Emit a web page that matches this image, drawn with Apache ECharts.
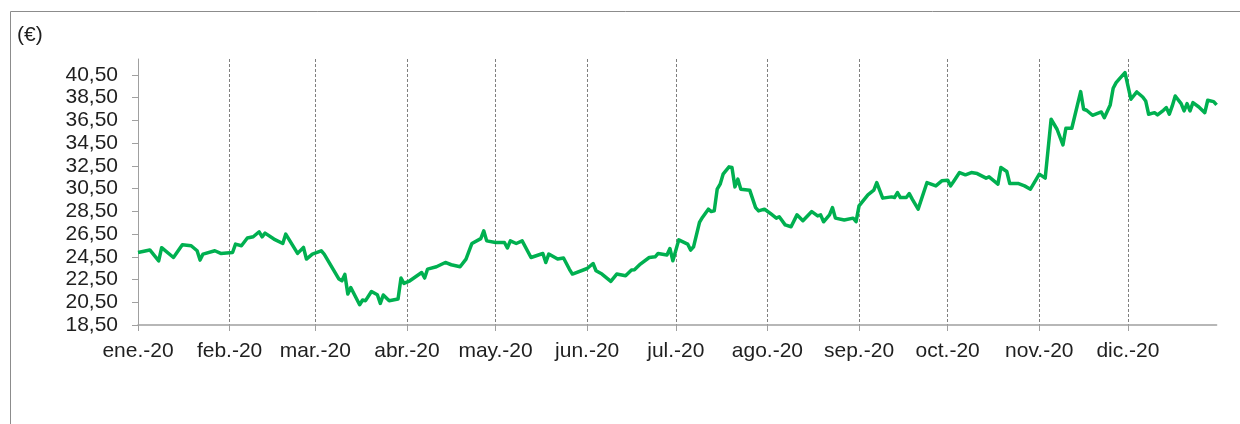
<!DOCTYPE html>
<html>
<head>
<meta charset="utf-8">
<script src="https://cdn.jsdelivr.net/npm/echarts@6/dist/echarts.min.js"></script>
<style>
  html, body { margin: 0; padding: 0; background: #fff; }
  #chart { width: 1240px; height: 424px; }
</style>
</head>
<body>
<div id="chart"></div>
<script>
// cotización diaria 2020 (€)
var dates = [
  '2020-01-01','2020-01-05','2020-01-08','2020-01-09','2020-01-13','2020-01-16','2020-01-19','2020-01-21','2020-01-22','2020-01-23',
  '2020-01-27','2020-01-29','2020-02-02','2020-02-03','2020-02-05','2020-02-07','2020-02-09','2020-02-11','2020-02-12','2020-02-13',
  '2020-02-16','2020-02-19','2020-02-20','2020-02-24','2020-02-26','2020-02-27','2020-02-29','2020-03-03','2020-03-04','2020-03-06',
  '2020-03-09','2020-03-10','2020-03-11','2020-03-12','2020-03-13','2020-03-16','2020-03-17','2020-03-18','2020-03-20','2020-03-22',
  '2020-03-23','2020-03-24','2020-03-26','2020-03-29','2020-03-30','2020-03-31','2020-04-02','2020-04-06','2020-04-07','2020-04-08',
  '2020-04-11','2020-04-14','2020-04-16','2020-04-19','2020-04-21','2020-04-23','2020-04-26','2020-04-27','2020-04-28','2020-05-01',
  '2020-05-04','2020-05-05','2020-05-06','2020-05-08','2020-05-10','2020-05-13','2020-05-17','2020-05-18','2020-05-19','2020-05-22',
  '2020-05-24','2020-05-26','2020-05-27','2020-06-01','2020-06-03','2020-06-04','2020-06-06','2020-06-09','2020-06-11','2020-06-14',
  '2020-06-16','2020-06-17','2020-06-19','2020-06-22','2020-06-24','2020-06-25','2020-06-28','2020-06-29','2020-06-30','2020-07-02',
  '2020-07-05','2020-07-06','2020-07-07','2020-07-09','2020-07-10','2020-07-12','2020-07-13','2020-07-14','2020-07-15','2020-07-16',
  '2020-07-17','2020-07-19','2020-07-20','2020-07-21','2020-07-22','2020-07-23','2020-07-26','2020-07-28','2020-07-29','2020-07-31',
  '2020-08-02','2020-08-04','2020-08-05','2020-08-07','2020-08-09','2020-08-11','2020-08-13','2020-08-16','2020-08-18','2020-08-19',
  '2020-08-20','2020-08-22','2020-08-23','2020-08-24','2020-08-27','2020-08-30','2020-08-31','2020-09-01','2020-09-04','2020-09-06',
  '2020-09-07','2020-09-09','2020-09-12','2020-09-13','2020-09-14','2020-09-15','2020-09-17','2020-09-18','2020-09-19','2020-09-21',
  '2020-09-24','2020-09-27','2020-09-29','2020-10-01','2020-10-02','2020-10-03','2020-10-05','2020-10-07','2020-10-09','2020-10-11',
  '2020-10-14','2020-10-15','2020-10-18','2020-10-19','2020-10-21','2020-10-22','2020-10-25','2020-10-27','2020-10-29','2020-11-01',
  '2020-11-03','2020-11-05','2020-11-07','2020-11-09','2020-11-10','2020-11-12','2020-11-15','2020-11-16','2020-11-17','2020-11-19',
  '2020-11-22','2020-11-23','2020-11-25','2020-11-26','2020-11-27','2020-11-29','2020-11-30','2020-12-02','2020-12-04','2020-12-06',
  '2020-12-07','2020-12-08','2020-12-10','2020-12-11','2020-12-13','2020-12-14','2020-12-15','2020-12-16','2020-12-17','2020-12-19',
  '2020-12-20','2020-12-21','2020-12-22','2020-12-23','2020-12-25','2020-12-27','2020-12-28','2020-12-30','2020-12-31'
];

var prices = [
  24.88, 25.10, 24.15, 25.30, 24.44, 25.56, 25.47, 25.03, 24.21, 24.74,
  25.03, 24.80, 24.88, 25.62, 25.47, 26.15, 26.26, 26.70, 26.26, 26.58,
  26.06, 25.67, 26.50, 24.80, 25.32, 24.30, 24.74, 25.03, 24.74, 23.86,
  22.54, 22.39, 22.95, 21.22, 21.80, 20.28, 20.70, 20.64, 21.45, 21.16,
  20.40, 21.14, 20.64, 20.78, 22.63, 22.16, 22.39, 23.12, 22.63, 23.42,
  23.62, 24.00, 23.80, 23.62, 24.30, 25.67, 26.10, 26.79, 25.90, 25.76,
  25.76, 25.27, 25.90, 25.67, 25.90, 24.44, 24.79, 24.00, 24.74, 24.30,
  24.39, 23.40, 22.98, 23.47, 23.91, 23.27, 22.98, 22.33, 22.98, 22.83,
  23.33, 23.36, 23.86, 24.44, 24.50, 24.79, 24.65, 25.23, 24.15, 25.99,
  25.62, 25.09, 25.38, 27.52, 27.96, 28.69, 28.48, 28.54, 30.45, 30.89,
  31.77, 32.41, 32.35, 30.65, 31.33, 30.45, 30.36, 28.83, 28.54, 28.69,
  28.31, 27.90, 28.02, 27.31, 27.14, 28.19, 27.67, 28.48, 28.10, 28.19,
  27.58, 28.19, 28.83, 27.90, 27.73, 27.90, 27.60, 28.98, 29.95, 30.36,
  31.03, 29.66, 29.77, 29.71, 30.15, 29.71, 29.71, 30.06, 29.57, 28.69,
  31.03, 30.74, 31.18, 31.24, 30.74, 31.12, 31.91, 31.71, 31.91, 31.82,
  31.42, 31.53, 30.89, 32.35, 32.00, 30.94, 30.94, 30.74, 30.45, 31.77,
  31.42, 36.60, 35.72, 34.34, 35.81, 35.81, 39.03, 37.48, 37.39, 36.95,
  37.24, 36.74, 37.86, 39.33, 39.82, 40.41, 40.70, 38.36, 39.00, 38.56,
  38.21, 37.04, 37.18, 36.98, 37.39, 37.62, 37.04, 37.77, 38.65, 37.97,
  37.33, 37.97, 37.33, 38.06, 37.68, 37.18, 38.27, 38.15, 37.86
];

var monthStarts = ['2020-01-01','2020-02-01','2020-03-01','2020-04-01','2020-05-01','2020-06-01',
                   '2020-07-01','2020-08-01','2020-09-01','2020-10-01','2020-11-01','2020-12-01'];
var monthLabels = ['ene.-20','feb.-20','mar.-20','abr.-20','may.-20','jun.-20',
                   'jul.-20','ago.-20','sep.-20','oct.-20','nov.-20','dic.-20'];
var yTicks = [18.5, 20.5, 22.5, 24.5, 26.5, 28.5, 30.5, 32.5, 34.5, 36.5, 38.5, 40.5];

function toTime(d) { return echarts.time.parse(d).getTime(); }
var monthValues = monthStarts.map(toTime);

var chart = echarts.init(document.getElementById('chart'), null, { renderer: 'canvas' });

var option = {
  animation: false,
  textStyle: { fontFamily: '"Liberation Sans", Arial, sans-serif' },
  grid: { left: 138, right: 23.4, top: 59, bottom: 99 },
  graphic: [
    {
      type: 'polyline',
      shape: { points: [[10.5, 424], [10.5, 11.5], [1240, 11.5]] },
      style: { stroke: '#8c8c8c', lineWidth: 1, fill: null }
    },
    {
      type: 'text',
      left: 17, top: 25,
      style: { text: '(€)', fontSize: 21, fill: '#1f1f1f', fontFamily: '"Liberation Sans", Arial, sans-serif' }
    }
  ],
  xAxis: {
    type: 'value',
    min: toTime('2020-01-01'),
    max: toTime('2020-12-31'),
    axisLine: { lineStyle: { color: '#a0a0a0', width: 1.5 } },
    axisTick: { show: true, length: 6, customValues: monthValues, lineStyle: { color: '#a0a0a0' } },
    axisLabel: {
      customValues: monthValues,
      fontSize: 21,
      color: '#1f1f1f',
      margin: 16,
      formatter: function (v) {
        var i = monthValues.indexOf(v);
        return i >= 0 ? monthLabels[i] : '';
      }
    },
    splitLine: { show: true, lineStyle: { color: '#7f7f7f', type: [3, 2], width: 1 } }
  },
  yAxis: {
    type: 'value',
    min: 18.5,
    max: 41.9,
    interval: 2,
    axisLine: { show: true, lineStyle: { color: '#a0a0a0', width: 1 } },
    axisTick: { show: true, length: 6, customValues: yTicks, lineStyle: { color: '#a0a0a0' } },
    axisLabel: {
      customValues: yTicks,
      fontSize: 21,
      color: '#1f1f1f',
      margin: 20,
      formatter: function (v) { return v.toFixed(2).replace('.', ','); }
    },
    splitLine: { show: false }
  },
  series: [{
    type: 'line',
    data: dates.map(function (d, i) { return [toTime(d), prices[i]]; }),
    showSymbol: false,
    symbol: 'none',
    lineStyle: { color: '#00b050', width: 3.5, join: 'round' },
    itemStyle: { color: '#00b050' }
  }]
};

chart.setOption(option);
</script>
</body>
</html>
